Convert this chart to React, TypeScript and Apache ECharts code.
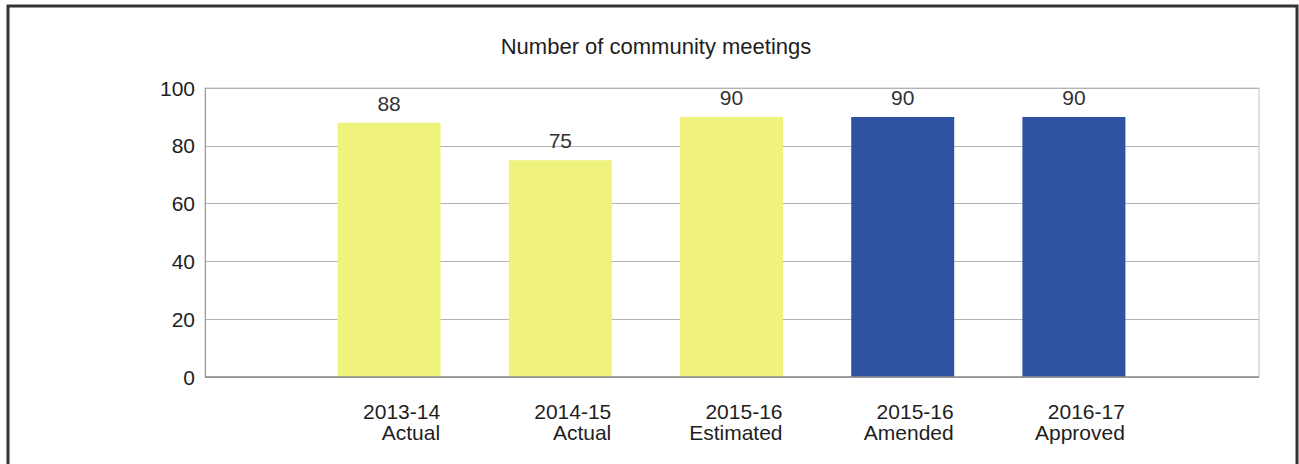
import React, { useEffect, useRef } from "react";
import * as echarts from "echarts";

const titleText = "Number of community meetings";
const years = ["2013-14", "2014-15", "2015-16", "2015-16", "2016-17"];
const kinds = ["Actual", "Actual", "Estimated", "Amended", "Approved"];
const meetings = [88, 75, 90, 90, 90];
const yTicks = [0, 20, 40, 60, 80, 100];

const kindColor: Record<string, string> = {
  Actual: "#EFF27B",
  Estimated: "#EFF27B",
  Amended: "#2F53A0",
  Approved: "#2F53A0",
};

const FONT = "'Liberation Sans', Arial, sans-serif";

export default function App() {
  const ref = useRef<HTMLDivElement>(null);
  useEffect(() => {
    if (!ref.current) return;
    const chart = echarts.init(ref.current, undefined, { renderer: "svg" });
    const categories = years.map((y, i) => `${y}\n${kinds[i]}`);
    const yMin = yTicks[0];
    const yMax = yTicks[yTicks.length - 1];
    const yStep = yTicks[1] - yTicks[0];
    chart.setOption({
      animation: false,
      backgroundColor: "#ffffff",
      title: {
        text: titleText,
        left: 651,
        top: 30,
        textAlign: "center",
        textStyle: { fontFamily: FONT, fontSize: 22, fontWeight: "normal", color: "#1e1e1e" },
      },
      graphic: [
        {
          type: "rect",
          shape: { x: 8, y: 6, width: 1289, height: 500 },
          style: { fill: "none", stroke: "#333", lineWidth: 3 },
          silent: true,
        },
      ],
      grid: [
        { left: 205, top: 88, width: 1054, height: 289, show: true, borderColor: "#c4c4c4", borderWidth: 1 },
        { left: 303.5, top: 88, width: 856, height: 289 },
      ],
      xAxis: [
        { gridIndex: 0, type: "value", min: 0, max: 1, show: false },
        {
          gridIndex: 1,
          type: "category",
          data: categories,
          axisLine: { show: false },
          axisTick: { show: false },
          axisLabel: {
            interval: 0,
            align: "right",
            padding: [0, -51, 0, 0],
            margin: 24,
            lineHeight: 21,
            fontFamily: FONT,
            fontSize: 21,
            color: "#1e1e1e",
          },
        },
      ],
      yAxis: [
        {
          gridIndex: 0,
          type: "value",
          min: yMin,
          max: yMax,
          interval: yStep,
          axisLine: { show: true, lineStyle: { color: "#999", width: 1 } },
          axisTick: { show: false },
          splitLine: { show: true, lineStyle: { color: "#b3b3b3", width: 1 } },
          axisLabel: { margin: 10, fontFamily: FONT, fontSize: 21, color: "#1e1e1e" },
        },
        { gridIndex: 1, type: "value", min: yMin, max: yMax, show: false },
      ],
      series: [
        {
          type: "bar",
          xAxisIndex: 1,
          yAxisIndex: 1,
          barWidth: 103,
          data: meetings.map((v, i) => ({ value: v, itemStyle: { color: kindColor[kinds[i]] } })),
          label: {
            show: true,
            position: "top",
            distance: 9,
            fontFamily: FONT,
            fontSize: 21,
            color: "#333",
          },
        },
        {
          type: "line",
          xAxisIndex: 0,
          yAxisIndex: 0,
          data: [],
          markLine: {
            silent: true,
            symbol: "none",
            label: { show: false },
            lineStyle: { color: "#8c8c8c", type: "solid", width: 1.5 },
            data: [{ yAxis: yMin }],
          },
        },
      ],
    });
    return () => chart.dispose();
  }, []);
  return (
    <div
      ref={ref}
      style={{ position: "fixed", left: 0, top: 0, width: 1299, height: 464, background: "#fff" }}
    />
  );
}
